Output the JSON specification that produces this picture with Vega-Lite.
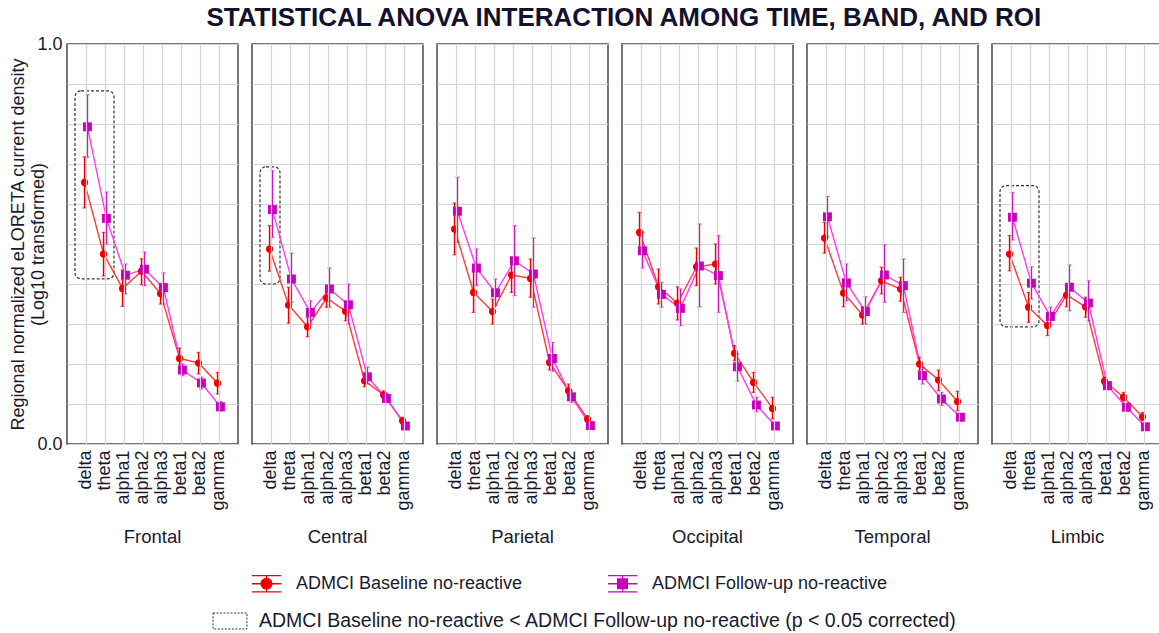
{
  "$schema": "https://vega.github.io/schema/vega-lite/v6.json",
  "padding": {"left": 9, "top": 5, "right": 0, "bottom": 0},
  "background": "white",
  "title": {"text": "STATISTICAL ANOVA INTERACTION AMONG TIME, BAND, AND ROI", "fontSize": 26, "fontWeight": "bold", "color": "#12122e", "font": "Liberation Sans", "anchor": "middle", "offset": 4, "dx": 37},
  "data": {"values": [
    {"roi":"Frontal","kind":"mean","group":"ADMCI Baseline no-reactive","band":"delta","mean":0.654,"lo":0.59,"hi":0.718},
    {"roi":"Frontal","kind":"mean","group":"ADMCI Baseline no-reactive","band":"theta","mean":0.475,"lo":0.42,"hi":0.529},
    {"roi":"Frontal","kind":"mean","group":"ADMCI Baseline no-reactive","band":"alpha1","mean":0.389,"lo":0.344,"hi":0.435},
    {"roi":"Frontal","kind":"mean","group":"ADMCI Baseline no-reactive","band":"alpha2","mean":0.432,"lo":0.398,"hi":0.463},
    {"roi":"Frontal","kind":"mean","group":"ADMCI Baseline no-reactive","band":"alpha3","mean":0.376,"lo":0.35,"hi":0.392},
    {"roi":"Frontal","kind":"mean","group":"ADMCI Baseline no-reactive","band":"beta1","mean":0.214,"lo":0.192,"hi":0.24},
    {"roi":"Frontal","kind":"mean","group":"ADMCI Baseline no-reactive","band":"beta2","mean":0.2025,"lo":0.175,"hi":0.229},
    {"roi":"Frontal","kind":"mean","group":"ADMCI Baseline no-reactive","band":"gamma","mean":0.152,"lo":0.125,"hi":0.179},
    {"roi":"Frontal","kind":"mean","group":"ADMCI Follow-up no-reactive","band":"delta","mean":0.793,"lo":0.717,"hi":0.873},
    {"roi":"Frontal","kind":"mean","group":"ADMCI Follow-up no-reactive","band":"theta","mean":0.564,"lo":0.5,"hi":0.63},
    {"roi":"Frontal","kind":"mean","group":"ADMCI Follow-up no-reactive","band":"alpha1","mean":0.422,"lo":0.375,"hi":0.45},
    {"roi":"Frontal","kind":"mean","group":"ADMCI Follow-up no-reactive","band":"alpha2","mean":0.437,"lo":0.396,"hi":0.48},
    {"roi":"Frontal","kind":"mean","group":"ADMCI Follow-up no-reactive","band":"alpha3","mean":0.391,"lo":0.35,"hi":0.428},
    {"roi":"Frontal","kind":"mean","group":"ADMCI Follow-up no-reactive","band":"beta1","mean":0.185,"lo":0.171,"hi":0.2},
    {"roi":"Frontal","kind":"mean","group":"ADMCI Follow-up no-reactive","band":"beta2","mean":0.1525,"lo":0.1375,"hi":0.167},
    {"roi":"Frontal","kind":"mean","group":"ADMCI Follow-up no-reactive","band":"gamma","mean":0.093,"lo":0.082,"hi":0.106},
    {"roi":"Central","kind":"mean","group":"ADMCI Baseline no-reactive","band":"delta","mean":0.4875,"lo":0.432,"hi":0.546},
    {"roi":"Central","kind":"mean","group":"ADMCI Baseline no-reactive","band":"theta","mean":0.3475,"lo":0.302,"hi":0.392},
    {"roi":"Central","kind":"mean","group":"ADMCI Baseline no-reactive","band":"alpha1","mean":0.293,"lo":0.268,"hi":0.317},
    {"roi":"Central","kind":"mean","group":"ADMCI Baseline no-reactive","band":"alpha2","mean":0.365,"lo":0.342,"hi":0.383},
    {"roi":"Central","kind":"mean","group":"ADMCI Baseline no-reactive","band":"alpha3","mean":0.332,"lo":0.308,"hi":0.354},
    {"roi":"Central","kind":"mean","group":"ADMCI Baseline no-reactive","band":"beta1","mean":0.158,"lo":0.143,"hi":0.175},
    {"roi":"Central","kind":"mean","group":"ADMCI Baseline no-reactive","band":"beta2","mean":0.123,"lo":0.115,"hi":0.133},
    {"roi":"Central","kind":"mean","group":"ADMCI Baseline no-reactive","band":"gamma","mean":0.058,"lo":0.05,"hi":0.067},
    {"roi":"Central","kind":"mean","group":"ADMCI Follow-up no-reactive","band":"delta","mean":0.586,"lo":0.517,"hi":0.683},
    {"roi":"Central","kind":"mean","group":"ADMCI Follow-up no-reactive","band":"theta","mean":0.4125,"lo":0.354,"hi":0.477},
    {"roi":"Central","kind":"mean","group":"ADMCI Follow-up no-reactive","band":"alpha1","mean":0.329,"lo":0.3,"hi":0.358},
    {"roi":"Central","kind":"mean","group":"ADMCI Follow-up no-reactive","band":"alpha2","mean":0.3875,"lo":0.342,"hi":0.44},
    {"roi":"Central","kind":"mean","group":"ADMCI Follow-up no-reactive","band":"alpha3","mean":0.348,"lo":0.3,"hi":0.4},
    {"roi":"Central","kind":"mean","group":"ADMCI Follow-up no-reactive","band":"beta1","mean":0.168,"lo":0.15,"hi":0.192},
    {"roi":"Central","kind":"mean","group":"ADMCI Follow-up no-reactive","band":"beta2","mean":0.114,"lo":0.104,"hi":0.127},
    {"roi":"Central","kind":"mean","group":"ADMCI Follow-up no-reactive","band":"gamma","mean":0.045,"lo":0.04,"hi":0.052},
    {"roi":"Parietal","kind":"mean","group":"ADMCI Baseline no-reactive","band":"delta","mean":0.5375,"lo":0.473,"hi":0.6025},
    {"roi":"Parietal","kind":"mean","group":"ADMCI Baseline no-reactive","band":"theta","mean":0.379,"lo":0.329,"hi":0.431},
    {"roi":"Parietal","kind":"mean","group":"ADMCI Baseline no-reactive","band":"alpha1","mean":0.331,"lo":0.3,"hi":0.3625},
    {"roi":"Parietal","kind":"mean","group":"ADMCI Baseline no-reactive","band":"alpha2","mean":0.4225,"lo":0.379,"hi":0.467},
    {"roi":"Parietal","kind":"mean","group":"ADMCI Baseline no-reactive","band":"alpha3","mean":0.414,"lo":0.367,"hi":0.4625},
    {"roi":"Parietal","kind":"mean","group":"ADMCI Baseline no-reactive","band":"beta1","mean":0.204,"lo":0.185,"hi":0.221},
    {"roi":"Parietal","kind":"mean","group":"ADMCI Baseline no-reactive","band":"beta2","mean":0.133,"lo":0.121,"hi":0.15},
    {"roi":"Parietal","kind":"mean","group":"ADMCI Baseline no-reactive","band":"gamma","mean":0.0625,"lo":0.054,"hi":0.071},
    {"roi":"Parietal","kind":"mean","group":"ADMCI Follow-up no-reactive","band":"delta","mean":0.582,"lo":0.504,"hi":0.667},
    {"roi":"Parietal","kind":"mean","group":"ADMCI Follow-up no-reactive","band":"theta","mean":0.44,"lo":0.396,"hi":0.4875},
    {"roi":"Parietal","kind":"mean","group":"ADMCI Follow-up no-reactive","band":"alpha1","mean":0.378,"lo":0.346,"hi":0.4125},
    {"roi":"Parietal","kind":"mean","group":"ADMCI Follow-up no-reactive","band":"alpha2","mean":0.458,"lo":0.371,"hi":0.546},
    {"roi":"Parietal","kind":"mean","group":"ADMCI Follow-up no-reactive","band":"alpha3","mean":0.425,"lo":0.342,"hi":0.515},
    {"roi":"Parietal","kind":"mean","group":"ADMCI Follow-up no-reactive","band":"beta1","mean":0.214,"lo":0.182,"hi":0.254},
    {"roi":"Parietal","kind":"mean","group":"ADMCI Follow-up no-reactive","band":"beta2","mean":0.118,"lo":0.104,"hi":0.133},
    {"roi":"Parietal","kind":"mean","group":"ADMCI Follow-up no-reactive","band":"gamma","mean":0.046,"lo":0.04,"hi":0.052},
    {"roi":"Occipital","kind":"mean","group":"ADMCI Baseline no-reactive","band":"delta","mean":0.529,"lo":0.479,"hi":0.579},
    {"roi":"Occipital","kind":"mean","group":"ADMCI Baseline no-reactive","band":"theta","mean":0.393,"lo":0.35,"hi":0.4375},
    {"roi":"Occipital","kind":"mean","group":"ADMCI Baseline no-reactive","band":"alpha1","mean":0.352,"lo":0.31,"hi":0.393},
    {"roi":"Occipital","kind":"mean","group":"ADMCI Baseline no-reactive","band":"alpha2","mean":0.443,"lo":0.396,"hi":0.49},
    {"roi":"Occipital","kind":"mean","group":"ADMCI Baseline no-reactive","band":"alpha3","mean":0.45,"lo":0.4,"hi":0.5},
    {"roi":"Occipital","kind":"mean","group":"ADMCI Baseline no-reactive","band":"beta1","mean":0.227,"lo":0.208,"hi":0.246},
    {"roi":"Occipital","kind":"mean","group":"ADMCI Baseline no-reactive","band":"beta2","mean":0.154,"lo":0.129,"hi":0.179},
    {"roi":"Occipital","kind":"mean","group":"ADMCI Baseline no-reactive","band":"gamma","mean":0.089,"lo":0.0625,"hi":0.117},
    {"roi":"Occipital","kind":"mean","group":"ADMCI Follow-up no-reactive","band":"delta","mean":0.483,"lo":0.44,"hi":0.529},
    {"roi":"Occipital","kind":"mean","group":"ADMCI Follow-up no-reactive","band":"theta","mean":0.374,"lo":0.342,"hi":0.404},
    {"roi":"Occipital","kind":"mean","group":"ADMCI Follow-up no-reactive","band":"alpha1","mean":0.339,"lo":0.296,"hi":0.3875},
    {"roi":"Occipital","kind":"mean","group":"ADMCI Follow-up no-reactive","band":"alpha2","mean":0.445,"lo":0.343,"hi":0.55},
    {"roi":"Occipital","kind":"mean","group":"ADMCI Follow-up no-reactive","band":"alpha3","mean":0.421,"lo":0.329,"hi":0.521},
    {"roi":"Occipital","kind":"mean","group":"ADMCI Follow-up no-reactive","band":"beta1","mean":0.193,"lo":0.157,"hi":0.225},
    {"roi":"Occipital","kind":"mean","group":"ADMCI Follow-up no-reactive","band":"beta2","mean":0.0975,"lo":0.081,"hi":0.117},
    {"roi":"Occipital","kind":"mean","group":"ADMCI Follow-up no-reactive","band":"gamma","mean":0.045,"lo":0.04,"hi":0.05},
    {"roi":"Temporal","kind":"mean","group":"ADMCI Baseline no-reactive","band":"delta","mean":0.515,"lo":0.477,"hi":0.554},
    {"roi":"Temporal","kind":"mean","group":"ADMCI Baseline no-reactive","band":"theta","mean":0.3775,"lo":0.343,"hi":0.4125},
    {"roi":"Temporal","kind":"mean","group":"ADMCI Baseline no-reactive","band":"alpha1","mean":0.3225,"lo":0.3,"hi":0.343},
    {"roi":"Temporal","kind":"mean","group":"ADMCI Baseline no-reactive","band":"alpha2","mean":0.408,"lo":0.375,"hi":0.442},
    {"roi":"Temporal","kind":"mean","group":"ADMCI Baseline no-reactive","band":"alpha3","mean":0.3875,"lo":0.357,"hi":0.417},
    {"roi":"Temporal","kind":"mean","group":"ADMCI Baseline no-reactive","band":"beta1","mean":0.2,"lo":0.183,"hi":0.217},
    {"roi":"Temporal","kind":"mean","group":"ADMCI Baseline no-reactive","band":"beta2","mean":0.16,"lo":0.133,"hi":0.185},
    {"roi":"Temporal","kind":"mean","group":"ADMCI Baseline no-reactive","band":"gamma","mean":0.106,"lo":0.083,"hi":0.132},
    {"roi":"Temporal","kind":"mean","group":"ADMCI Follow-up no-reactive","band":"delta","mean":0.568,"lo":0.518,"hi":0.619},
    {"roi":"Temporal","kind":"mean","group":"ADMCI Follow-up no-reactive","band":"theta","mean":0.4025,"lo":0.358,"hi":0.45},
    {"roi":"Temporal","kind":"mean","group":"ADMCI Follow-up no-reactive","band":"alpha1","mean":0.331,"lo":0.3,"hi":0.368},
    {"roi":"Temporal","kind":"mean","group":"ADMCI Follow-up no-reactive","band":"alpha2","mean":0.4225,"lo":0.354,"hi":0.498},
    {"roi":"Temporal","kind":"mean","group":"ADMCI Follow-up no-reactive","band":"alpha3","mean":0.396,"lo":0.329,"hi":0.4625},
    {"roi":"Temporal","kind":"mean","group":"ADMCI Follow-up no-reactive","band":"beta1","mean":0.171,"lo":0.15,"hi":0.193},
    {"roi":"Temporal","kind":"mean","group":"ADMCI Follow-up no-reactive","band":"beta2","mean":0.1125,"lo":0.096,"hi":0.129},
    {"roi":"Temporal","kind":"mean","group":"ADMCI Follow-up no-reactive","band":"gamma","mean":0.067,"lo":0.058,"hi":0.075},
    {"roi":"Limbic","kind":"mean","group":"ADMCI Baseline no-reactive","band":"delta","mean":0.475,"lo":0.433,"hi":0.521},
    {"roi":"Limbic","kind":"mean","group":"ADMCI Baseline no-reactive","band":"theta","mean":0.342,"lo":0.304,"hi":0.379},
    {"roi":"Limbic","kind":"mean","group":"ADMCI Baseline no-reactive","band":"alpha1","mean":0.296,"lo":0.271,"hi":0.317},
    {"roi":"Limbic","kind":"mean","group":"ADMCI Baseline no-reactive","band":"alpha2","mean":0.3725,"lo":0.343,"hi":0.396},
    {"roi":"Limbic","kind":"mean","group":"ADMCI Baseline no-reactive","band":"alpha3","mean":0.343,"lo":0.317,"hi":0.367},
    {"roi":"Limbic","kind":"mean","group":"ADMCI Baseline no-reactive","band":"beta1","mean":0.157,"lo":0.146,"hi":0.167},
    {"roi":"Limbic","kind":"mean","group":"ADMCI Baseline no-reactive","band":"beta2","mean":0.117,"lo":0.107,"hi":0.129},
    {"roi":"Limbic","kind":"mean","group":"ADMCI Baseline no-reactive","band":"gamma","mean":0.068,"lo":0.058,"hi":0.079},
    {"roi":"Limbic","kind":"mean","group":"ADMCI Follow-up no-reactive","band":"delta","mean":0.567,"lo":0.51,"hi":0.629},
    {"roi":"Limbic","kind":"mean","group":"ADMCI Follow-up no-reactive","band":"theta","mean":0.402,"lo":0.3625,"hi":0.443},
    {"roi":"Limbic","kind":"mean","group":"ADMCI Follow-up no-reactive","band":"alpha1","mean":0.319,"lo":0.3,"hi":0.342},
    {"roi":"Limbic","kind":"mean","group":"ADMCI Follow-up no-reactive","band":"alpha2","mean":0.392,"lo":0.333,"hi":0.4475},
    {"roi":"Limbic","kind":"mean","group":"ADMCI Follow-up no-reactive","band":"alpha3","mean":0.3525,"lo":0.308,"hi":0.408},
    {"roi":"Limbic","kind":"mean","group":"ADMCI Follow-up no-reactive","band":"beta1","mean":0.146,"lo":0.135,"hi":0.154},
    {"roi":"Limbic","kind":"mean","group":"ADMCI Follow-up no-reactive","band":"beta2","mean":0.092,"lo":0.083,"hi":0.1},
    {"roi":"Limbic","kind":"mean","group":"ADMCI Follow-up no-reactive","band":"gamma","mean":0.043,"lo":0.038,"hi":0.048},
    {"roi":"Frontal","kind":"box","band":"delta","band2":"theta","top":0.883,"bottom":0.413,"sig":"ADMCI Baseline no-reactive < ADMCI Follow-up no-reactive (p < 0.05 corrected)"},
    {"roi":"Central","kind":"box","band":"delta","band2":"delta","top":0.693,"bottom":0.4,"sig":"ADMCI Baseline no-reactive < ADMCI Follow-up no-reactive (p < 0.05 corrected)"},
    {"roi":"Limbic","kind":"box","band":"delta","band2":"theta","top":0.646,"bottom":0.293,"sig":"ADMCI Baseline no-reactive < ADMCI Follow-up no-reactive (p < 0.05 corrected)"}
  ]},
  "facet": {
    "column": {
      "field": "roi", "type": "nominal",
      "sort": ["Frontal", "Central", "Parietal", "Occipital", "Temporal", "Limbic"],
      "title": null,
      "header": {"labelOrient": "bottom", "labelFontSize": 18.5, "labelColor": "#1a1a2e", "labelFont": "Liberation Sans", "labelPadding": 18}
    }
  },
  "spacing": 12,
  "spec": {
    "width": 171,
    "height": 400,
    "encoding": {
      "x": {
        "field": "band", "type": "nominal",
        "scale": {"type": "band", "paddingInner": 0.7, "paddingOuter": 0.85, "domain": ["delta", "theta", "alpha1", "alpha2", "alpha3", "beta1", "beta2", "gamma"]},
        "axis": {"title": null, "labelAngle": -90, "labelFontSize": 18, "labelColor": "#1a1a2e", "labelFont": "Liberation Sans", "ticks": false, "domain": false, "labelPadding": 5, "grid": true, "gridColor": "#d4d4d4", "gridWidth": 1.2}
      }
    },
    "layer": [
      {
        "transform": [{"filter": "datum.kind == 'box'"}],
        "mark": {"type": "rect", "filled": false, "strokeWidth": 1.2, "strokeDash": [3, 2], "cornerRadius": 6, "xOffset": -11, "x2Offset": 9},
        "encoding": {
          "x2": {"field": "band2"},
          "y": {
            "field": "top", "type": "quantitative",
            "scale": {"domain": [0, 1], "nice": false, "zero": true},
            "axis": {
              "title": ["Regional normalized eLORETA current density", "(Log10 transformed)"],
              "titleFontSize": 18, "titleFontWeight": "normal", "titleColor": "#1a1a2e", "titleFont": "Liberation Sans", "titlePadding": -11,
              "values": [0, 0.1, 0.2, 0.3, 0.4, 0.5, 0.6, 0.7, 0.8, 0.9, 1],
              "labelExpr": "datum.value == 0 || datum.value == 1 ? format(datum.value, '.1f') : ''",
              "labelFontSize": 18, "labelColor": "#1a1a2e", "labelFont": "Liberation Sans", "labelPadding": 4,
              "ticks": false, "domain": false, "grid": true, "gridColor": "#d4d4d4", "gridWidth": 1.2
            }
          },
          "y2": {"field": "bottom"},
          "stroke": {"field": "sig", "type": "nominal", "scale": {"range": ["#333333"]},
            "legend": {"orient": "none", "legendX": 148, "legendY": 562, "title": null, "symbolType": "M-1.17,-0.55H1.17V0.55H-1.17Z", "symbolSize": 841, "symbolFillColor": "white", "symbolStrokeColor": "#333333", "symbolDash": [2, 1.5], "symbolStrokeWidth": 1, "labelFontSize": 19.5, "labelColor": "#1a1a2e", "labelFont": "Liberation Sans", "labelOffset": 14, "labelLimit": 900}}
        }
      },
      {
        "transform": [{"filter": "datum.kind == 'mean' && datum.group == 'ADMCI Baseline no-reactive'"}],
        "mark": {"type": "line", "color": "#ff3a3a", "strokeWidth": 1.4},
        "encoding": {
          "y": {"field": "mean", "type": "quantitative", "axis": {"values": [0, 0.1, 0.2, 0.3, 0.4, 0.5, 0.6, 0.7, 0.8, 0.9, 1]}},
          "xOffset": {"field": "group", "type": "nominal", "scale": {"domain": ["ADMCI Baseline no-reactive", "ADMCI Follow-up no-reactive"]}}
        }
      },
      {
        "transform": [{"filter": "datum.kind == 'mean' && datum.group == 'ADMCI Follow-up no-reactive'"}],
        "mark": {"type": "line", "color": "#ff3cf2", "strokeWidth": 1.4},
        "encoding": {
          "y": {"field": "mean", "type": "quantitative", "axis": {"values": [0, 0.1, 0.2, 0.3, 0.4, 0.5, 0.6, 0.7, 0.8, 0.9, 1]}},
          "xOffset": {"field": "group", "type": "nominal"}
        }
      },
      {
        "transform": [{"filter": "datum.kind == 'mean' && datum.group == 'ADMCI Baseline no-reactive'"}],
        "mark": {"type": "rule", "strokeWidth": 1.5, "color": "#e80000"},
        "encoding": {
          "y": {"field": "lo", "type": "quantitative", "axis": {"values": [0, 0.1, 0.2, 0.3, 0.4, 0.5, 0.6, 0.7, 0.8, 0.9, 1]}},
          "y2": {"field": "hi"},
          "xOffset": {"field": "group", "type": "nominal"}
        }
      },
      {
        "transform": [{"filter": "datum.kind == 'mean' && datum.group == 'ADMCI Follow-up no-reactive'"}],
        "mark": {"type": "rule", "strokeWidth": 1.5, "color": "#d000c0"},
        "encoding": {
          "y": {"field": "lo", "type": "quantitative", "axis": {"values": [0, 0.1, 0.2, 0.3, 0.4, 0.5, 0.6, 0.7, 0.8, 0.9, 1]}},
          "y2": {"field": "hi"},
          "xOffset": {"field": "group", "type": "nominal"}
        }
      },
      {
        "transform": [{"filter": "datum.kind == 'mean' && datum.group == 'ADMCI Baseline no-reactive'"}, {"fold": ["lo", "hi"], "as": ["end", "val"]}],
        "mark": {"type": "tick", "size": 4, "thickness": 1.2, "color": "#e80000"},
        "encoding": {
          "y": {"field": "val", "type": "quantitative", "axis": {"values": [0, 0.1, 0.2, 0.3, 0.4, 0.5, 0.6, 0.7, 0.8, 0.9, 1]}},
          "xOffset": {"field": "group", "type": "nominal"}
        }
      },
      {
        "transform": [{"filter": "datum.kind == 'mean' && datum.group == 'ADMCI Follow-up no-reactive'"}, {"fold": ["lo", "hi"], "as": ["end", "val"]}],
        "mark": {"type": "tick", "size": 4, "thickness": 1.2, "color": "#d000c0"},
        "encoding": {
          "y": {"field": "val", "type": "quantitative", "axis": {"values": [0, 0.1, 0.2, 0.3, 0.4, 0.5, 0.6, 0.7, 0.8, 0.9, 1]}},
          "xOffset": {"field": "group", "type": "nominal"}
        }
      },
      {
        "transform": [{"filter": "datum.kind == 'mean' && datum.group == 'ADMCI Baseline no-reactive'"}],
        "mark": {"type": "point", "filled": true, "opacity": 1, "size": 52, "shape": "circle"},
        "encoding": {
          "y": {"field": "mean", "type": "quantitative", "axis": {"values": [0, 0.1, 0.2, 0.3, 0.4, 0.5, 0.6, 0.7, 0.8, 0.9, 1]}},
          "xOffset": {"field": "group", "type": "nominal"},
          "color": {"field": "group", "type": "nominal"}
        }
      },
      {
        "transform": [{"filter": "datum.kind == 'mean' && datum.group == 'ADMCI Follow-up no-reactive'"}],
        "mark": {"type": "point", "filled": true, "opacity": 1, "size": 80, "shape": "square"},
        "encoding": {
          "y": {"field": "mean", "type": "quantitative", "axis": {"values": [0, 0.1, 0.2, 0.3, 0.4, 0.5, 0.6, 0.7, 0.8, 0.9, 1]}},
          "xOffset": {"field": "group", "type": "nominal"},
          "color": {"field": "group", "type": "nominal"}
        }
      },
      {
        "transform": [{"filter": "datum.kind == 'mean'"}],
        "mark": {"type": "point", "filled": true, "opacity": 0, "size": 10},
        "encoding": {
          "y": {"field": "mean", "type": "quantitative", "axis": {"values": [0, 0.1, 0.2, 0.3, 0.4, 0.5, 0.6, 0.7, 0.8, 0.9, 1]}},
          "xOffset": {"field": "group", "type": "nominal"},
          "color": {"field": "group", "type": "nominal",
            "scale": {"domain": ["ADMCI Baseline no-reactive", "ADMCI Follow-up no-reactive"], "range": ["#ee0000", "#cc00bb"]},
            "legend": {"orient": "none", "legendX": 185, "legendY": 525, "direction": "horizontal", "title": null, "symbolSize": 841, "symbolOpacity": 1, "symbolStrokeWidth": 0, "labelFontSize": 18, "labelColor": "#1a1a2e", "labelFont": "Liberation Sans", "labelOffset": 15, "columnPadding": 85, "labelLimit": 400}},
          "shape": {"field": "group", "type": "nominal",
            "scale": {"domain": ["ADMCI Baseline no-reactive", "ADMCI Follow-up no-reactive"], "range": [
              "M-1,-0.6H1V-0.51H-1Z M-1,0.51H1V0.6H-1Z M-1,-0.045H1V0.045H-1Z M-0.04,-0.55H0.04V0.55H-0.04Z M0.41,0A0.41,0.41 0 1,1 -0.41,0A0.41,0.41 0 1,1 0.41,0Z",
              "M-1,-0.6H1V-0.51H-1Z M-1,0.51H1V0.6H-1Z M-1,-0.045H1V0.045H-1Z M-0.04,-0.55H0.04V0.55H-0.04Z M-0.38,-0.38H0.38V0.38H-0.38Z"
            ]},
            "legend": {"orient": "none", "legendX": 185, "legendY": 525, "direction": "horizontal", "title": null, "symbolSize": 841, "symbolOpacity": 1, "symbolStrokeWidth": 0, "labelFontSize": 18, "labelColor": "#1a1a2e", "labelFont": "Liberation Sans", "labelOffset": 15, "columnPadding": 85, "labelLimit": 400}}
        }
      }
    ]
  },
  "config": {
    "view": {"stroke": "#4a4a4a", "strokeWidth": 1.5},
    "font": "Liberation Sans"
  }
}
